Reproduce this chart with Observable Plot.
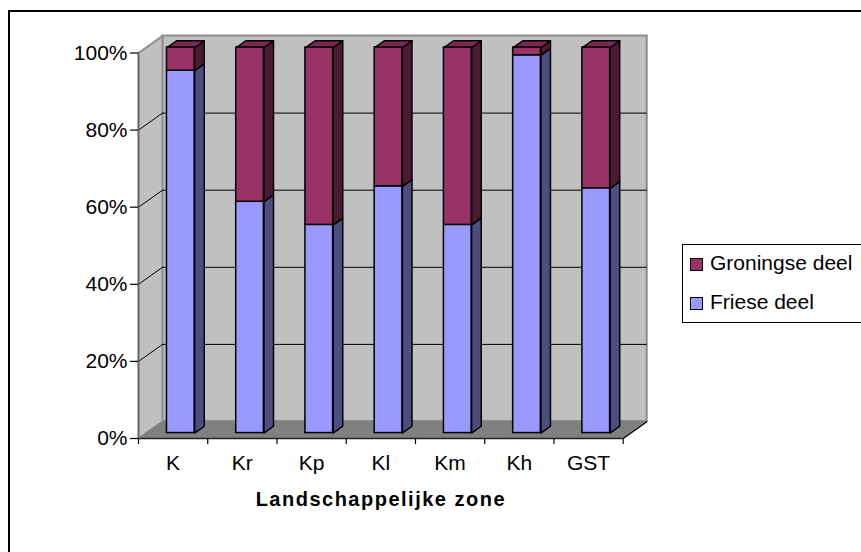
<!DOCTYPE html>
<html><head><meta charset="utf-8">
<script src="https://cdn.jsdelivr.net/npm/d3@7"></script>
<script src="https://cdn.jsdelivr.net/npm/@observablehq/plot@0.6"></script>
<style>
html,body{margin:0;padding:0;background:#fff;overflow:hidden;width:861px;height:552px;}
#chart{position:absolute;left:0;top:0;}
#frame{position:absolute;left:8px;top:10px;width:900px;height:600px;border:2px solid #000;box-sizing:border-box;pointer-events:none;}
#legend{position:absolute;left:682px;top:244px;width:220px;height:77px;border:1px solid #000;background:#fff;font-family:"Liberation Sans",Arial,sans-serif;font-size:21px;line-height:21px;color:#000;}
#legend .sw{position:absolute;left:7px;width:11px;height:11px;border:1px solid #000;}
#legend .lb{position:absolute;left:27px;white-space:nowrap;}
g[font-weight="bold"] text{letter-spacing:1.5px;}
</style></head>
<body>
<div id="chart"></div>
<div id="frame"></div>
<div id="legend"></div>
<script>
const categories = ["K", "Kr", "Kp", "Kl", "Km", "Kh", "GST"];
const friese = [94, 60, 54, 64, 54, 98, 63.5];
const groningse = [6, 40, 46, 36, 46, 2, 36.5];
const seriesNames = ["Groningse deel", "Friese deel"];
const yTicks = [0, 20, 40, 60, 80, 100];
const axisTitle = "Landschappelijke zone";

const frontColors = {"Friese deel": "#9999FF", "Groningse deel": "#993366"};
const sideColors = {"Friese deel": "#4D4D80", "Groningse deel": "#4D1A33"};
const topColors = {"Friese deel": "#7A7ACC", "Groningse deel": "#7A2952"};

const W = 861, H = 552, mL = 138, mR = 238.3, mT = 52.5, mB = 114;
const n = categories.length;
const pxX = (W - mL - mR) / n;
const pxY = (H - mT - mB) / 100;
const DX = 24 / pxX, DY = 17 / pxY;
const F0 = 0.32, F1 = 0.72, HW = 0.2;
const X0 = -0.5, X1 = n - 0.5;

const segs = [];
categories.forEach((c, i) => {
  const total = friese[i] + groningse[i];
  const f = friese[i] / total * 100;
  const g = groningse[i] / total * 100;
  segs.push({i, series: "Friese deel", y0: 0, y1: f, top: false});
  segs.push({i, series: "Groningse deel", y0: f, y1: f + g, top: true});
});

const poly = (id, color, pts) => pts.concat([pts[0]]).map(([x, y]) => ({id, color, x, y}));

const sidePts = segs.flatMap((s, k) => {
  const xa = s.i + HW + F0 * DX, xb = s.i + HW + F1 * DX;
  return poly("s" + k, sideColors[s.series], [[xa, s.y0 + F0 * DY], [xb, s.y0 + F1 * DY], [xb, s.y1 + F1 * DY], [xa, s.y1 + F0 * DY]]);
});
const topPts = segs.filter(s => s.top).flatMap((s, k) => {
  const l = s.i - HW, r = s.i + HW;
  return poly("t" + k, topColors[s.series], [[l + F0 * DX, s.y1 + F0 * DY], [r + F0 * DX, s.y1 + F0 * DY], [r + F1 * DX, s.y1 + F1 * DY], [l + F1 * DX, s.y1 + F1 * DY]]);
});
const sideWall = poly("sw", "#C0C0C0", [[X0, 0], [X0, 100], [X0 + DX, 100 + DY], [X0 + DX, DY]]);
const floor = poly("fl", "#808080", [[X0, 0], [X1, 0], [X1 + DX, DY], [X0 + DX, DY]]);
const inner = yTicks.slice(1, -1);
const bounds = categories.map((c, i) => i - 0.5).concat([n - 0.5]);

const plot = Plot.plot({
  width: W, height: H,
  marginLeft: mL, marginRight: mR, marginTop: mT, marginBottom: mB,
  x: {type: "linear", domain: [X0, X1]},
  y: {type: "linear", domain: [0, 100]},
  color: {type: "identity"},
  style: {fontFamily: "'Liberation Sans', Arial, sans-serif", fontSize: "21px", color: "#000", background: "transparent", overflow: "visible"},
  marks: [
    Plot.rect([0], {x1: X0 + DX, x2: X1 + DX, y1: DY, y2: 100 + DY, fill: "#C0C0C0", stroke: "#8C8C8C", strokeWidth: 2}),
    Plot.line(sideWall, {x: "x", y: "y", z: "id", fill: "color", stroke: "#8C8C8C", strokeWidth: 2}),
    Plot.line(floor, {x: "x", y: "y", z: "id", fill: "color", stroke: "#808080", strokeWidth: 1}),
    Plot.link([[X1, 0]], {x1: d => d[0], y1: d => d[1], x2: d => d[0] + DX, y2: d => d[1] + DY, stroke: "#000", strokeWidth: 1.2}),
    Plot.ruleY(inner, {y: d => d + DY, x1: X0 + DX, x2: X1 + DX, stroke: "#000", strokeWidth: 1}),
    Plot.link(inner, {x1: X0, y1: d => d, x2: X0 + DX, y2: d => d + DY, stroke: "#000", strokeWidth: 1}),
    Plot.ruleX([X0], {y1: 0, y2: 100, stroke: "#666", strokeWidth: 1.5}),
    Plot.ruleY([0], {x1: X0, x2: X1, stroke: "#222", strokeWidth: 1.5}),
    Plot.line(sidePts, {x: "x", y: "y", z: "id", fill: "color", stroke: "#000", strokeWidth: 1.5, strokeLinejoin: "round"}),
    Plot.line(topPts, {x: "x", y: "y", z: "id", fill: "color", stroke: "#000", strokeWidth: 1.5, strokeLinejoin: "round"}),
    Plot.rect(segs, {
      x1: d => d.i - HW + F0 * DX, x2: d => d.i + HW + F0 * DX,
      y1: d => d.y0 + F0 * DY, y2: d => d.y1 + F0 * DY,
      fill: d => frontColors[d.series], stroke: "#000", strokeWidth: 1.5
    }),
    Plot.axisY({ticks: yTicks, tickFormat: d => d + "%", tickSize: 8, tickPadding: 3, label: null, stroke: "#000", strokeWidth: 1.2}),
    Plot.axisX({ticks: bounds, tickFormat: () => "", tickSize: 6, label: null, stroke: "#000", strokeWidth: 1.2}),
    Plot.axisX({ticks: categories.map((c, i) => i), tickFormat: i => categories[i], tickSize: 0, tickPadding: 17, label: null}),
    Plot.text([axisTitle], {frameAnchor: "bottom", dy: 67, fontWeight: "bold", fontSize: 20, fill: "#000"})
  ]
});
document.getElementById("chart").appendChild(plot);

const legend = document.getElementById("legend");
const legendTops = [13, 52];
const labelTops = [7, 46];
seriesNames.forEach((s, k) => {
  const sw = document.createElement("div");
  sw.className = "sw";
  sw.style.top = legendTops[k] + "px";
  sw.style.background = frontColors[s];
  legend.appendChild(sw);
  const lb = document.createElement("div");
  lb.className = "lb";
  lb.style.top = labelTops[k] + "px";
  lb.textContent = s;
  legend.appendChild(lb);
});
</script>
</body></html>
